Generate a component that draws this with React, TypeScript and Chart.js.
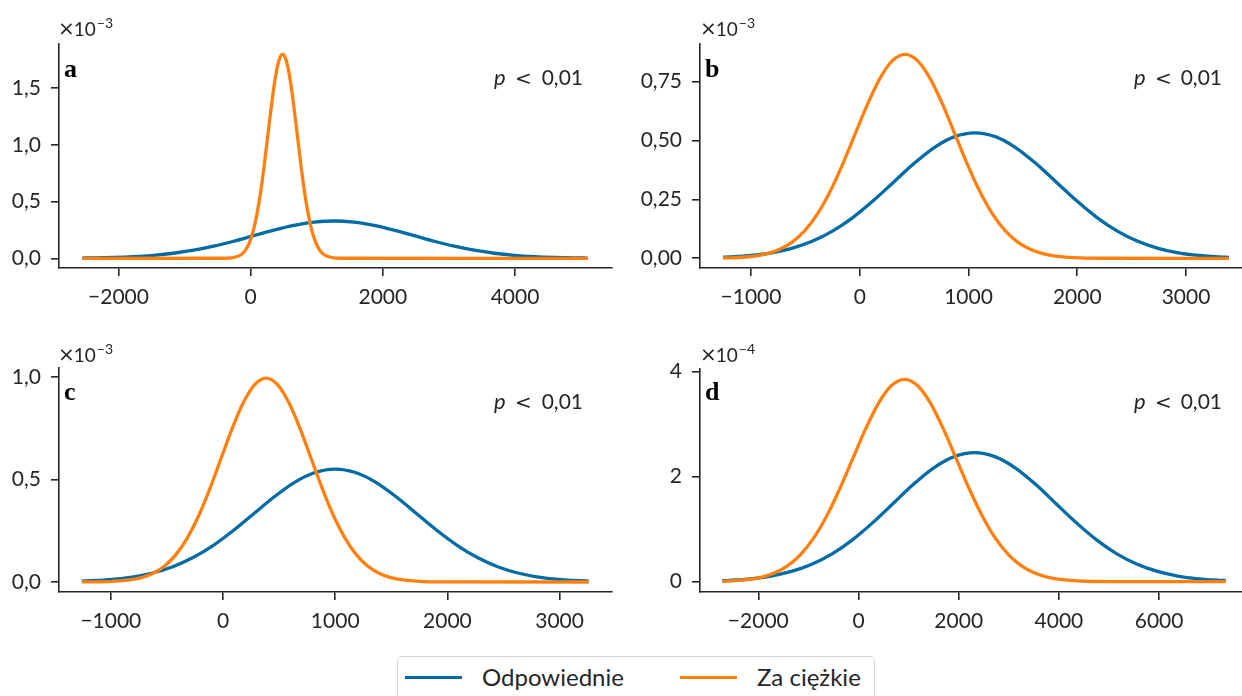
import React, { useEffect, useRef } from "react";
import { Chart, registerables } from "chart.js";

Chart.register(...registerables);

// ---------- data (density values; y in units of the panel's ×10^n factor) ----------
const seriesNames = ["Odpowiednie", "Za ciężkie"];
const panelLetters = ["a", "b", "c", "d"];
const pValueText = "0,01";
const exponents = ["−3", "−3", "−3", "−4"];

const aBlueX = [-2550, -2379, -2076, -1773, -1469, -1166, -863, -560, -256, 47, 350, 654, 957, 1260, 1563, 1867, 2170, 2473, 2776, 3080, 3383, 3686, 3989, 4293, 4596, 4899, 5100];
const aBlueY = [0.0024, 0.0037, 0.0075, 0.0145, 0.0262, 0.0445, 0.0712, 0.1068, 0.1506, 0.1996, 0.2483, 0.2903, 0.3189, 0.329, 0.3189, 0.2903, 0.2483, 0.1996, 0.1506, 0.1068, 0.0712, 0.0445, 0.0262, 0.0145, 0.0075, 0.0037, 0.0022];
const aOrangeX = [-2550, -403, -293, -182, -126, -71, -16, 40, 95, 151, 206, 261, 317, 372, 428, 483, 538, 594, 649, 705, 760, 815, 871, 926, 982, 1037, 1092, 1148, 1259, 1369, 5100];
const aOrangeY = [0, 0.0006, 0.0039, 0.02, 0.041, 0.0791, 0.1432, 0.2436, 0.3893, 0.5844, 0.8241, 1.0918, 1.3587, 1.5885, 1.7446, 1.8, 1.7446, 1.5885, 1.3587, 1.0918, 0.8241, 0.5844, 0.3893, 0.2436, 0.1432, 0.0791, 0.041, 0.02, 0.0039, 0.0006, 0];

const bBlueX = [-1257, -1187, -999, -812, -625, -438, -251, -64, 123, 311, 498, 685, 872, 1059, 1246, 1433, 1620, 1808, 1995, 2182, 2369, 2556, 2743, 2930, 3117, 3305, 3395];
const bBlueY = [0.0044, 0.0059, 0.0121, 0.0234, 0.0424, 0.0721, 0.1153, 0.173, 0.244, 0.3233, 0.4023, 0.4704, 0.5166, 0.533, 0.5166, 0.4704, 0.4023, 0.3233, 0.244, 0.173, 0.1153, 0.0721, 0.0424, 0.0234, 0.0121, 0.0059, 0.0041];
const bOrangeX = [-1257, -1196, -1081, -966, -851, -736, -621, -505, -390, -275, -160, -45, 71, 186, 301, 416, 531, 646, 762, 877, 992, 1107, 1222, 1337, 1453, 1568, 1683, 1798, 2028, 2259, 3395];
const bOrangeY = [0.0012, 0.0019, 0.0044, 0.0096, 0.0197, 0.0381, 0.0689, 0.1172, 0.1873, 0.2811, 0.3965, 0.5253, 0.6537, 0.7642, 0.8393, 0.866, 0.8393, 0.7642, 0.6537, 0.5253, 0.3965, 0.2811, 0.1873, 0.1172, 0.0689, 0.0381, 0.0197, 0.0096, 0.0019, 0.0003, 0];

const cBlueX = [-1259, -1172, -991, -810, -629, -448, -267, -86, 95, 276, 457, 638, 819, 1000, 1181, 1362, 1543, 1724, 1905, 2086, 2267, 2448, 2629, 2810, 2991, 3172, 3259];
const cBlueY = [0.0042, 0.0061, 0.0126, 0.0242, 0.0438, 0.0746, 0.1192, 0.1789, 0.2523, 0.3342, 0.4159, 0.4863, 0.534, 0.551, 0.534, 0.4863, 0.4159, 0.3342, 0.2523, 0.1789, 0.1192, 0.0746, 0.0438, 0.0242, 0.0126, 0.0061, 0.0042];
const cOrangeX = [-1259, -1019, -919, -819, -718, -618, -518, -418, -318, -217, -117, -17, 83, 184, 284, 384, 484, 584, 685, 785, 885, 985, 1086, 1186, 1286, 1386, 1487, 1587, 1787, 1988, 3259];
const cOrangeY = [0.0002, 0.0022, 0.0051, 0.0111, 0.0227, 0.0437, 0.0792, 0.1347, 0.2152, 0.323, 0.4555, 0.6035, 0.7511, 0.8781, 0.9644, 0.995, 0.9644, 0.8781, 0.7511, 0.6035, 0.4555, 0.323, 0.2152, 0.1347, 0.0792, 0.0437, 0.0227, 0.0111, 0.0022, 0.0003, 0];

const dBlueX = [-2719, -2557, -2151, -1745, -1339, -933, -527, -121, 285, 691, 1097, 1503, 1909, 2315, 2721, 3127, 3533, 3939, 4345, 4751, 5157, 5563, 5969, 6375, 6781, 7187, 7330];
const dBlueY = [0.0201, 0.0273, 0.056, 0.108, 0.1955, 0.3325, 0.5314, 0.7977, 1.1249, 1.4902, 1.8546, 2.1683, 2.3814, 2.457, 2.3814, 2.1683, 1.8546, 1.4902, 1.1249, 0.7977, 0.5314, 0.3325, 0.1955, 0.108, 0.056, 0.0273, 0.021];
const dOrangeX = [-2719, -2446, -2187, -1928, -1670, -1411, -1152, -893, -635, -376, -117, 142, 400, 659, 918, 1177, 1436, 1694, 1953, 2212, 2471, 2729, 2988, 3247, 3506, 3764, 4023, 4541, 5058, 7330];
const dOrangeY = [0.008, 0.0196, 0.0428, 0.0879, 0.1694, 0.3067, 0.5217, 0.8337, 1.2515, 1.7649, 2.3382, 2.9099, 3.402, 3.7364, 3.855, 3.7364, 3.402, 2.9099, 2.3382, 1.7649, 1.2515, 0.8337, 0.5217, 0.3067, 0.1694, 0.0879, 0.0428, 0.0084, 0.0013, 0];

const aXTicks = [-2000, 0, 2000, 4000];
const aYTicks = [0, 0.5, 1.0, 1.5];
const bXTicks = [-1000, 0, 1000, 2000, 3000];
const bYTicks = [0, 0.25, 0.5, 0.75];
const cXTicks = [-1000, 0, 1000, 2000, 3000];
const cYTicks = [0, 0.5, 1.0];
const dXTicks = [-2000, 0, 2000, 4000, 6000];
const dYTicks = [0, 2, 4];

// ---------- styles ----------
const BLUE = "#006BA4";
const ORANGE = "#FF800E";
const INK = "#262626";
const SANS = "Lato, 'Noto Sans', sans-serif";
const MATH = "'DejaVu Sans', sans-serif";
const SERIF = "'Liberation Serif', 'DejaVu Serif', serif";

type PanelCfg = {
  left: number; top: number; width: number; height: number;
  yAxisW: number; padTop: number; padRight: number; padBottom: number; xAxisH: number;
  xMin: number; xMax: number; yMin: number; yMax: number;
  xTicks: number[]; yTicks: number[]; yDec: number;
  blueX: number[]; blueY: number[]; orangeX: number[]; orangeY: number[];
  letter: string; exponent: string;
  letterX: number; letterY: number;
  expX: number; expY: number;
  pX: number; ltX: number; numRight: number; pY: number;
};

const panels: PanelCfg[] = [
  {
    left: 0, top: 0, width: 640, height: 320, yAxisW: 59, padTop: 44, padRight: 28, padBottom: 12, xAxisH: 40,
    xMin: -2900, xMax: 5467, yMin: -0.0855, yMax: 1.89, xTicks: aXTicks, yTicks: aYTicks, yDec: 1,
    blueX: aBlueX, blueY: aBlueY, orangeX: aOrangeX, orangeY: aOrangeY,
    letter: panelLetters[0], exponent: exponents[0],
    letterX: 64, letterY: 77, expX: 58, expY: 36, pX: 494, ltX: 515, numRight: 583, pY: 85,
  },
  {
    left: 640, top: 0, width: 602, height: 320, yAxisW: 60, padTop: 44, padRight: 0, padBottom: 12, xAxisH: 40,
    xMin: -1469, xMax: 3515, yMin: -0.0412, yMax: 0.91, xTicks: bXTicks, yTicks: bYTicks, yDec: 2,
    blueX: bBlueX, blueY: bBlueY, orangeX: bOrangeX, orangeY: bOrangeY,
    letter: panelLetters[1], exponent: exponents[1],
    letterX: 705, letterY: 77, expX: 700, expY: 36, pX: 1134, ltX: 1155, numRight: 1222, pY: 85,
  },
  {
    left: 0, top: 320, width: 640, height: 320, yAxisW: 59, padTop: 48, padRight: 28, padBottom: 8, xAxisH: 40,
    xMin: -1462, xMax: 3467, yMin: -0.0488, yMax: 1.044, xTicks: cXTicks, yTicks: cYTicks, yDec: 1,
    blueX: cBlueX, blueY: cBlueY, orangeX: cOrangeX, orangeY: cOrangeY,
    letter: panelLetters[2], exponent: exponents[2],
    letterX: 64, letterY: 400, expX: 58, expY: 362, pX: 494, ltX: 515, numRight: 583, pY: 409,
  },
  {
    left: 640, top: 320, width: 602, height: 320, yAxisW: 60, padTop: 49, padRight: 0, padBottom: 8, xAxisH: 40,
    xMin: -3164, xMax: 7655, yMin: -0.196, yMax: 4.051, xTicks: dXTicks, yTicks: dYTicks, yDec: 0,
    blueX: dBlueX, blueY: dBlueY, orangeX: dOrangeX, orangeY: dOrangeY,
    letter: panelLetters[3], exponent: exponents[3],
    letterX: 705, letterY: 400, expX: 700, expY: 362, pX: 1134, ltX: 1155, numRight: 1222, pY: 409,
  },
];

const fmtX = (v: number) => (v < 0 ? "\u2212" + Math.abs(v) : String(v));
const fmtY = (v: number, dec: number) => v.toFixed(dec).replace(".", ",");

const textPlugin = {
  id: "panelText",
  afterDraw(chart: any, _args: any, opts: any) {
    const c: PanelCfg = opts.cfg;
    if (!c) return;
    const ctx = chart.ctx;
    const ox = c.left;
    const oy = c.top;
    ctx.save();
    ctx.fillStyle = INK;
    ctx.textBaseline = "alphabetic";
    ctx.textAlign = "left";
    // exponent: ×10^n
    let x = c.expX - ox;
    const y = c.expY - oy;
    ctx.font = `20px ${MATH}`;
    ctx.fillText("×", x, y - 1);
    x += ctx.measureText("×").width - 1;
    ctx.font = `19px ${SANS}`;
    ctx.fillText("10", x, y);
    x += ctx.measureText("10").width + 1;
    ctx.font = `14px ${SANS}`;
    ctx.fillText(c.exponent, x, y - 8);
    // panel letter
    ctx.fillStyle = "#000";
    ctx.font = `bold 26px ${SERIF}`;
    ctx.fillText(c.letter, c.letterX - ox, c.letterY - oy);
    // p < 0,01
    ctx.fillStyle = INK;
    ctx.font = `italic 22px ${SANS}`;
    ctx.fillText("p", c.pX - ox, c.pY - oy);
    ctx.font = `20px ${MATH}`;
    ctx.fillText("<", c.ltX - ox, c.pY - oy);
    ctx.font = `21px ${SANS}`;
    ctx.textAlign = "right";
    ctx.fillText(pValueText, c.numRight - ox, c.pY - oy);
    ctx.restore();
  },
};

function Panel({ cfg }: { cfg: PanelCfg }) {
  const ref = useRef<HTMLCanvasElement | null>(null);
  useEffect(() => {
    if (!ref.current) return;
    const blue = cfg.blueX.map((x, i) => ({ x, y: cfg.blueY[i] }));
    const orange = cfg.orangeX.map((x, i) => ({ x, y: cfg.orangeY[i] }));
    const tickFont = { family: SANS, size: 21 };
    const chart = new Chart(ref.current, {
      type: "line",
      data: {
        datasets: [
          {
            label: seriesNames[0], data: blue, borderColor: BLUE, borderWidth: 3.3,
            pointRadius: 0, cubicInterpolationMode: "monotone", fill: false, order: 2,
          },
          {
            label: seriesNames[1], data: orange, borderColor: ORANGE, borderWidth: 3.3,
            pointRadius: 0, cubicInterpolationMode: "monotone", fill: false, order: 1,
          },
        ],
      },
      options: {
        animation: false,
        responsive: false,
        maintainAspectRatio: false,
        events: [],
        layout: { padding: { left: 0, top: cfg.padTop, right: cfg.padRight, bottom: cfg.padBottom } },
        plugins: {
          legend: { display: false },
          tooltip: { enabled: false },
          panelText: { cfg },
        } as any,
        scales: {
          x: {
            type: "linear",
            min: cfg.xMin,
            max: cfg.xMax,
            afterBuildTicks: (s: any) => { s.ticks = cfg.xTicks.map((v) => ({ value: v })); },
            afterFit: (s: any) => { s.height = cfg.xAxisH; },
            grid: { display: true, drawOnChartArea: false, drawTicks: true, tickLength: 8, lineWidth: 1.6, color: INK },
            border: { display: true, color: INK, width: 1.6 },
            ticks: { font: tickFont, color: INK, padding: 9, maxRotation: 0, autoSkip: false, callback: (v: any) => fmtX(Number(v)) },
          },
          y: {
            type: "linear",
            min: cfg.yMin,
            max: cfg.yMax,
            afterBuildTicks: (s: any) => { s.ticks = cfg.yTicks.map((v) => ({ value: v })); },
            afterFit: (s: any) => { s.width = cfg.yAxisW; },
            grid: { display: true, drawOnChartArea: false, drawTicks: true, tickLength: 8, lineWidth: 1.6, color: INK },
            border: { display: true, color: INK, width: 1.6 },
            ticks: { font: tickFont, color: INK, padding: 10, autoSkip: false, callback: (v: any) => fmtY(Number(v), cfg.yDec) },
          },
        },
      } as any,
      plugins: [textPlugin],
    });
    return () => chart.destroy();
  }, [cfg]);
  return (
    <canvas
      ref={ref}
      width={cfg.width}
      height={cfg.height}
      style={{ position: "absolute", left: cfg.left, top: cfg.top, width: cfg.width, height: cfg.height }}
    />
  );
}

export default function App() {
  const legendText: React.CSSProperties = {
    position: "absolute", top: 662, height: 30, lineHeight: "30px",
    fontFamily: SANS, fontSize: 24, color: INK, whiteSpace: "nowrap",
  };
  return (
    <div style={{ position: "fixed", left: 0, top: 0, width: 1242, height: 696, background: "#fff", overflow: "hidden" }}>
      {panels.map((p, i) => <Panel key={i} cfg={p} />)}
      <div style={{
        position: "absolute", left: 397, top: 656, width: 478, height: 60,
        border: "1.5px solid #d4d4d4", borderRadius: 5, background: "#fff", boxSizing: "border-box",
      }} />
      <div style={{ position: "absolute", left: 405, top: 675.5, width: 57, height: 3, background: BLUE }} />
      <div style={{ ...legendText, left: 482 }}>{seriesNames[0]}</div>
      <div style={{ position: "absolute", left: 680, top: 675.5, width: 57, height: 3, background: ORANGE }} />
      <div style={{ ...legendText, left: 757 }}>{seriesNames[1]}</div>
    </div>
  );
}
